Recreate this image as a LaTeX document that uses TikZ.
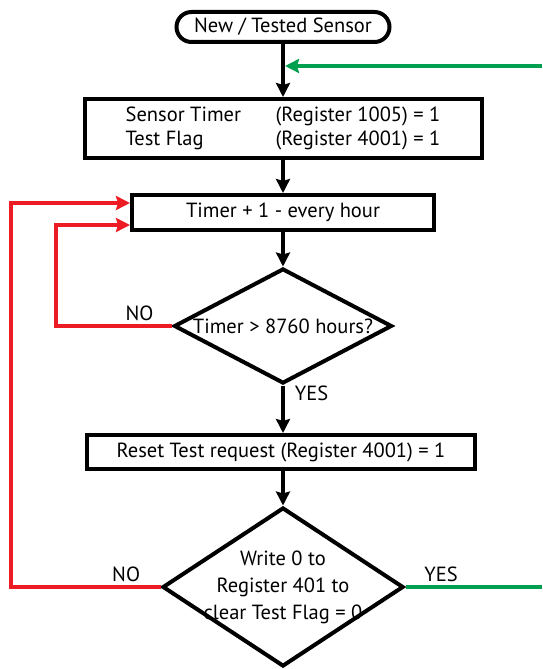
\documentclass[tikz,border=0pt]{standalone}
\usepackage{fontspec}
\setmainfont{PT Sans}
\usepackage{tikz}
\usetikzlibrary{calc,arrows.meta,shapes.geometric}
\definecolor{loopred}{RGB}{237,28,36}
\definecolor{loopgreen}{RGB}{0,160,80}

\begin{document}
\begin{tikzpicture}[x=1pt,y=-1pt,>={Stealth[length=14pt,width=14pt,inset=2pt]},
    every node/.style={font=\fontsize{20.5}{24}\selectfont,text=black},
    terminal/.style={draw,line width=4pt,rounded corners=15pt,minimum width=213pt,minimum height=30pt,inner sep=0pt},
    box/.style={draw,line width=4pt,inner sep=0pt},
    decision/.style={draw,diamond,line width=4pt,inner sep=0pt},
    flow/.style={->,line width=4pt},
    noline/.style={->,line width=3.5pt,color=loopred},
    yesline/.style={line width=3.5pt,color=loopgreen}]
\useasboundingbox (0,0) rectangle (542,669);

\node[terminal] (start) at (283,27) {New / Tested Sensor};
\node[box,minimum width=397pt,minimum height=59pt,align=left] (b1) at (283,128.5) {\makebox[150pt][l]{Sensor Timer}(Register 1005) = 1\\\makebox[150pt][l]{Test Flag}(Register 4001) = 1};
\node[box,minimum width=302pt,minimum height=35pt] (b2) at (283,212.5) {Timer + 1 - every hour};
\node[decision,minimum width=218pt,minimum height=115pt] (d1) at (283,326) {\makebox[0pt]{Timer > 8760 hours?}};
\node[box,minimum width=388pt,minimum height=34pt] (b3) at (281,452) {Reset Test request (Register 4001) = 1};
\node[decision,minimum width=241pt,minimum height=159pt] (d2) at (283,587) {\makebox[0pt]{\raisebox{4pt}{\fontsize{20.5}{27}\selectfont\begin{tabular}{@{}c@{}}Write 0 to\\Register 401 to\\clear Test Flag = 0\end{tabular}}}};
\coordinate (gin) at (542,66);

\draw[flow] (start.south) -- (start.south |- b1.north);
\draw[flow] (b1.south) -- (b1.south |- b2.north);
\draw[flow] (b2.south) -- (b2.south |- d1.north);
\draw[flow] (d1.south) -- node[right,pos=0.17,xshift=6.5pt] {YES} (d1.south |- b3.north);
\draw[flow] (d2.north |- b3.south) -- (d2.north);

% green returns to the top line
\draw[yesline,->] (gin) -- ([xshift=2pt]gin -| start.south);
\draw[yesline] (d2.east) -- node[above,pos=0.26] {YES} (d2.east -| gin);

% red loops back into the timer box
\draw[noline] (d1.west) -- node[above,pos=0.28] {NO} ++(-116,0) |- ([yshift=-12.5pt]b2.west);
\draw[noline] (d2.west) -- node[above,pos=0.23] {NO} ++(-149.5,0) |- ([yshift=9.5pt]b2.west);
\end{tikzpicture}
\end{document}
